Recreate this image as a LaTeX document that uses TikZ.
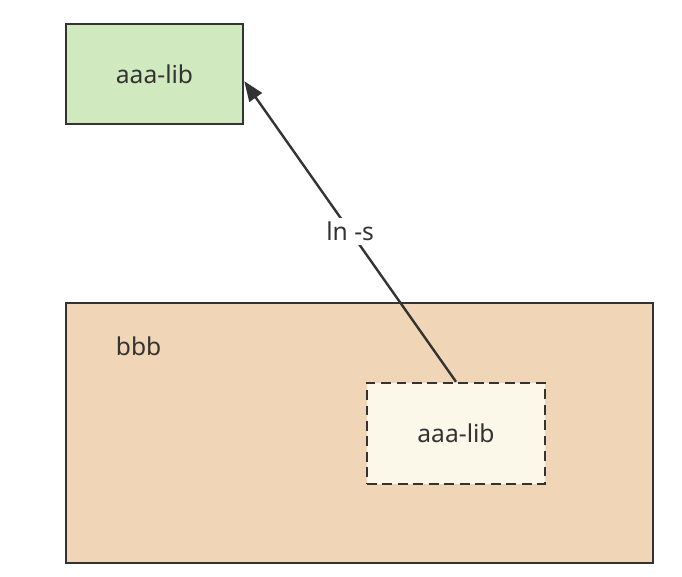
\documentclass[tikz,border=0pt]{standalone}
\usepackage{fontspec}
\setmainfont{Noto Sans}
\usetikzlibrary{arrows.meta,calc}
\definecolor{cInk}{HTML}{333333}
\definecolor{cLib}{HTML}{D1E9BE}
\definecolor{cDir}{HTML}{F0D5B6}
\definecolor{cLink}{HTML}{FBF8EA}

\begin{document}
\begin{tikzpicture}[
  x=0.025cm, y=-0.025cm,
  font=\fontsize{17.5}{21}\selectfont,
  box/.style={draw=cInk, fill=#1, line width=1.8pt, text=cInk, inner sep=0pt},
  link/.style={-{Triangle[length=5mm,width=3.8mm]}, line width=1.7pt, draw=cInk},
]
\useasboundingbox (0,0) rectangle (682,577);

% ---------------- original library ----------------
\node[box=cLib, minimum width=177*0.025cm, minimum height=100*0.025cm] (lib) at (154.5,74) {aaa-lib};

% ---------------- directory bbb ----------------
\node[box=cDir, minimum width=587*0.025cm, minimum height=260*0.025cm] (bbb) at (359.5,433) {};
\node[text=cInk, anchor=west] (bbbname) at (111,346) {bbb};

% ---------------- symbolic link ----------------
\node[box=cLink, dash pattern=on 7pt off 4pt, minimum width=178*0.025cm, minimum height=101*0.025cm] (sym) at (456,433.5) {aaa-lib};

\coordinate (tip) at ($(lib.north east)!0.57!(lib.south east)$);
\draw[link] (sym.north) -- node[fill=white, text=cInk, inner sep=3pt] (lnlabel) {ln -s} (tip);

\end{tikzpicture}
\end{document}
